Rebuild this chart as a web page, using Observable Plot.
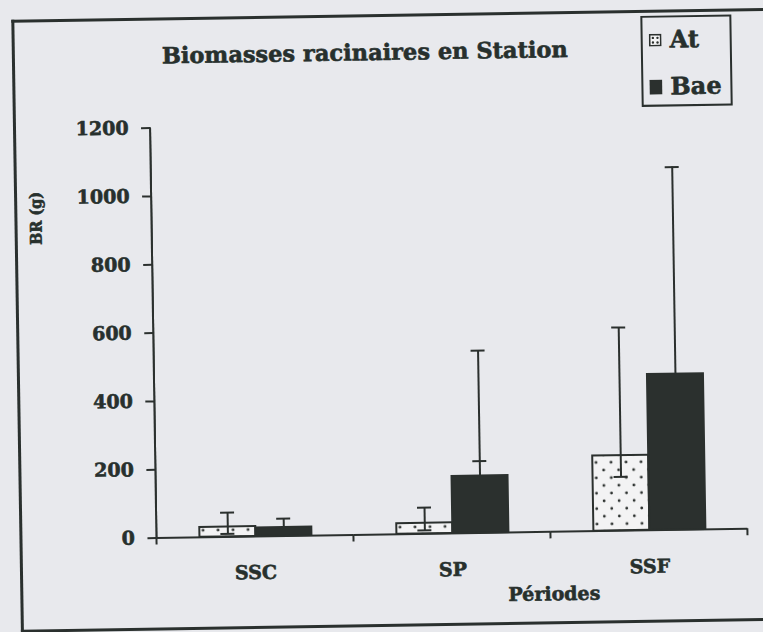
<!DOCTYPE html>
<html>
<head>
<meta charset="utf-8">
<script src="https://cdn.jsdelivr.net/npm/d3@7"></script>
<script src="https://cdn.jsdelivr.net/npm/@observablehq/plot@0.6"></script>
<style>
  html, body { margin: 0; padding: 0; background: #e8e9ed; overflow: hidden; }
  body { width: 763px; height: 632px; position: relative; }
  #wrap { position: absolute; left: 0; top: 0; width: 763px; height: 632px;
          transform: rotate(-0.9deg); transform-origin: 381.5px 316px; }
  #frame { position: absolute; left: 16px; top: 14px; width: 820px; height: 613px;
           box-sizing: border-box; border: 3px solid #2a302e; border-right: none; }
  .t { position: absolute; font-family: "DejaVu Serif", serif; font-weight: bold;
       color: #27302d; line-height: 1; white-space: nowrap; -webkit-text-stroke: 0.6px #27302d; }
  #title { left: 69px; width: 600px; top: 41px; font-size: 22.5px; text-align: center; }
  #ylab { left: 38px; top: 213px; font-size: 16px; font-stretch: condensed;
          transform: translate(-50%, -50%) rotate(-90deg); }
  #xlab { left: 500px; width: 100px; top: 587px; font-size: 19px; text-align: center; }
  #legend { position: absolute; left: 645px; top: 20px; width: 91px; height: 91px;
            box-sizing: border-box; border: 2px solid #2a302e; }
  .li { position: absolute; left: 0; height: 26px; display: flex; align-items: center; }
  .li svg { margin-left: 6px; margin-right: 8px; }
  .li span { font-family: "DejaVu Serif", serif; font-weight: bold; font-size: 24px; color: #27302d;
             line-height: 1; -webkit-text-stroke: 0.6px #27302d; }
  #plot { position: absolute; left: 0; top: 0; }
</style>
</head>
<body>
<div id="wrap">
  <div id="frame"></div>
  <div id="plot"></div>
  <div id="title" class="t"></div>
  <div id="ylab" class="t"></div>
  <div id="xlab" class="t"></div>
  <div id="legend"></div>
</div>
<script>
// ---- data ----
const titleText = "Biomasses racinaires en Station";
const yLabel = "BR (g)";
const xLabel = "Périodes";
const periods = ["SSC", "SP", "SSF"];
const seriesNames = ["At", "Bae"];
const atValues = [29, 31, 220];
const atErrHigh = [71, 77, 595];
const atErrLow = [9, 10, 158];
const baeValues = [25, 167, 456];
const baeErrHigh = [51, 534, 1062];
const baeErrLow = [null, 210, null];
const yTicks = [0, 200, 400, 600, 800, 1000, 1200];

const dark = "#2b302e";
const ink = "#27302d";

const rows = [];
periods.forEach((p, i) => {
  rows.push({period: p, series: "At", value: atValues[i], high: atErrHigh[i], low: atErrLow[i]});
  rows.push({period: p, series: "Bae", value: baeValues[i], high: baeErrHigh[i], low: baeErrLow[i]});
});

const chart = Plot.plot({
  width: 763,
  height: 632,
  marginLeft: 152,
  marginRight: 18,
  marginTop: 124,
  marginBottom: 98,
  style: {
    background: "transparent",
    fontFamily: "DejaVu Serif, serif",
    fontWeight: "bold",
    fontSize: "19px",
    color: ink,
    overflow: "visible"
  },
  facet: {data: rows, x: "period"},
  fx: {domain: periods, padding: 0, label: null, axis: "bottom", tickSize: 0, tickPadding: 29},
  x: {domain: seriesNames, paddingInner: 0, paddingOuter: 0.756, axis: null},
  y: {domain: [0, 1200], ticks: yTicks, tickFormat: d => String(d), tickSize: 9, tickPadding: 13, line: true, label: null},
  color: {domain: seriesNames, range: ["url(#dots)", dark]},
  marks: [
    Plot.barY(rows, {x: "series", y: "value", fill: "series", stroke: dark, strokeWidth: 2}),
    Plot.ruleX(rows, {x: "series", y1: d => (d.low != null ? Math.min(d.low, d.value) : d.value), y2: "high", stroke: dark, strokeWidth: 2}),
    Plot.tickY(rows, {x: "series", y: "high", insetLeft: 21, insetRight: 21, stroke: dark, strokeWidth: 2}),
    Plot.tickY(rows, {x: "series", y: d => d.low, insetLeft: 21, insetRight: 21, stroke: dark, strokeWidth: 2}),
    Plot.ruleY([0], {stroke: dark, strokeWidth: 2})
  ]
});

// pattern for the dotted bars
const svg = d3.select(chart);
const defs = svg.insert("defs", ":first-child");
const pat = defs.append("pattern").attr("id", "dots").attr("patternUnits", "userSpaceOnUse")
  .attr("width", 15).attr("height", 15.4);
pat.append("rect").attr("width", 15).attr("height", 15.4).attr("fill", "#f3f3f4");
pat.append("circle").attr("cx", 3.7).attr("cy", 3.8).attr("r", 1.4).attr("fill", dark);
pat.append("circle").attr("cx", 11.2).attr("cy", 11.5).attr("r", 1.4).attr("fill", dark);

// heavier axis text, like the reference
svg.selectAll("text").attr("stroke", ink).attr("stroke-width", 0.6).attr("paint-order", "fill");

// y axis tick strokes
svg.selectAll("[aria-label='y-axis'] path, [aria-label='y-axis'] line, [aria-label='y-axis tick'] path, [aria-label='y-axis line']")
  .attr("stroke-width", 2).attr("stroke", dark);

// category boundary ticks on the x axis (from the fx band scale)
const fxScale = chart.scale("fx");
const yScale = chart.scale("y");
const y0 = yScale.apply(0);
const edges = periods.map(p => fxScale.apply(p));
edges.push(fxScale.apply(periods[periods.length - 1]) + fxScale.bandwidth);
const g = svg.append("g").attr("aria-label", "category ticks");
edges.forEach(x => {
  g.append("line").attr("x1", x).attr("x2", x).attr("y1", y0).attr("y2", y0 + 7)
    .attr("stroke", dark).attr("stroke-width", 2);
});
// y axis line spanning the full y range
g.append("line").attr("x1", edges[0]).attr("x2", edges[0])
  .attr("y1", yScale.apply(1200)).attr("y2", y0).attr("stroke", dark).attr("stroke-width", 2);

document.getElementById("plot").appendChild(chart);

document.getElementById("title").textContent = titleText;
document.getElementById("ylab").textContent = yLabel;
document.getElementById("xlab").textContent = xLabel;

// legend
const legend = document.getElementById("legend");
seriesNames.forEach((name, i) => {
  const item = document.createElement("div");
  item.className = "li";
  item.style.top = (i === 0 ? 9 : 56) + "px";
  const sw = i === 0
    ? `<svg width="13" height="13"><rect x="1" y="1" width="11" height="11" fill="#f3f3f4" stroke="${dark}" stroke-width="1.6"/><circle cx="4.2" cy="4.2" r="1.2" fill="${dark}"/><circle cx="8.8" cy="4.2" r="1.2" fill="${dark}"/><circle cx="4.2" cy="8.8" r="1.2" fill="${dark}"/><circle cx="8.8" cy="8.8" r="1.2" fill="${dark}"/></svg>`
    : `<svg width="13" height="15"><rect x="0" y="0" width="13" height="15" fill="${dark}"/></svg>`;
  item.innerHTML = sw + `<span>${name}</span>`;
  legend.appendChild(item);
});
</script>
</body>
</html>
